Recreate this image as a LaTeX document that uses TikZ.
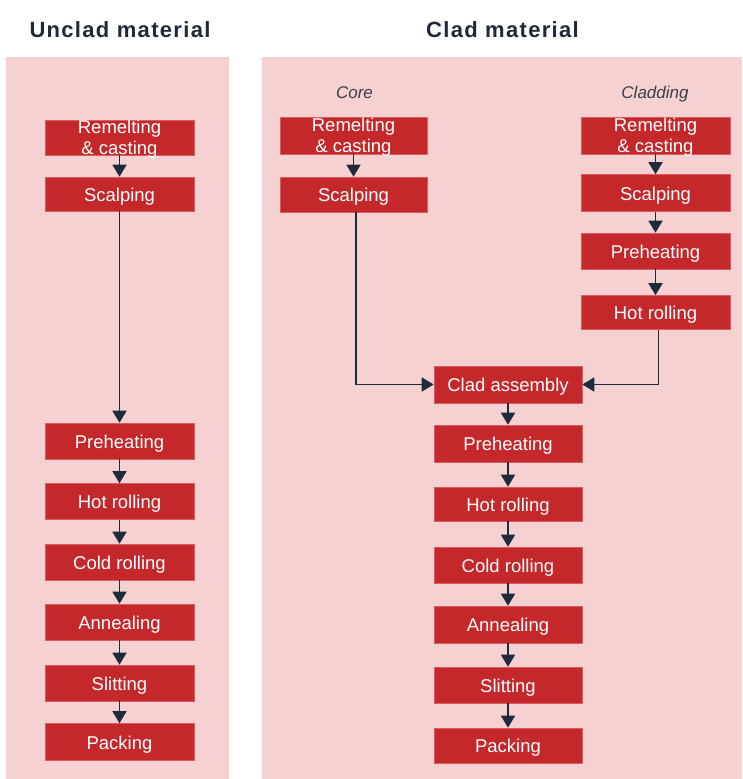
\documentclass[tikz,border=0pt]{standalone}
\usepackage{fontspec}
\setmainfont{Liberation Sans}
\usetikzlibrary{arrows.meta}
\definecolor{panel}{HTML}{F5D1D2}
\definecolor{boxred}{HTML}{C4282B}
\definecolor{boxedge}{HTML}{DA5C5E}
\definecolor{arrowc}{HTML}{1E2B3A}
\definecolor{titlec}{HTML}{1F2A36}
\definecolor{subc}{HTML}{3A3F47}
\begin{document}
\begin{tikzpicture}[x=1pt,y=-1pt,
  panelbox/.style={fill=panel, draw=none},
  procbox/.style={rectangle, fill=boxred, draw=boxedge, line width=0.6pt, text=white,
    font=\fontsize{18.5}{21}\selectfont, minimum height=36pt, inner sep=0pt,
    text height=14pt, text depth=0pt},
  twoline/.style={text height=0pt, text depth=9pt},
  wl/.style={minimum width=149pt},
  wc/.style={minimum width=147pt},
  wm/.style={minimum width=148pt},
  flow/.style={draw=arrowc, line width=1.6pt, -{Triangle[width=14pt,length=12pt]}},
  title/.style={font=\fontsize{22}{24}\selectfont\bfseries\addfontfeatures{LetterSpace=6}, text=titlec, anchor=base, inner sep=0pt},
  sub/.style={font=\fontsize{17}{20}\selectfont\itshape, text=subc, anchor=base, inner sep=0pt}]
\useasboundingbox (0,0) rectangle (742,779);
\fill[white] (0,0) rectangle (742,779);
% panels
\fill[panelbox] (6,57) rectangle (229,779);
\fill[panelbox] (262,57) rectangle (742,779);
% titles
\node[title] (t1) at (120,37) {Unclad material};
\node[title] (t2) at (502.5,37) {Clad material};
\node[sub] (core) at (354.5,98) {Core};
\node[sub] (clad) at (655,98) {Cladding};
% left column
\node[procbox,wl,twoline,minimum height=35pt] (l1) at (119.5,137.5) {\raisebox{0pt}[0pt][0pt]{\begin{tabular}[t]{@{}c@{}}Remelting\\\& casting\end{tabular}}};
\node[procbox,wl,minimum height=34pt] (l2) at (119.5,194) {Scalping};
\node[procbox,wl] (l3) at (119.5,441) {Preheating};
\node[procbox,wl] (l4) at (119.5,501.5) {Hot rolling};
\node[procbox,wl] (l5) at (119.5,562) {Cold rolling};
\node[procbox,wl] (l6) at (119.5,622) {Annealing};
\node[procbox,wl] (l7) at (119.5,683) {Slitting};
\node[procbox,wl,minimum height=37pt] (l8) at (119.5,742) {Packing};
% core column
\node[procbox,wc,twoline,minimum height=37pt] (c1) at (353.5,135.5) {\raisebox{0pt}[0pt][0pt]{\begin{tabular}[t]{@{}c@{}}Remelting\\\& casting\end{tabular}}};
\node[procbox,wc,minimum height=35pt] (c2) at (353.5,194.5) {Scalping};
% cladding column
\node[procbox,wl,twoline,minimum height=37pt] (d1) at (655.5,135.5) {\raisebox{0pt}[0pt][0pt]{\begin{tabular}[t]{@{}c@{}}Remelting\\\& casting\end{tabular}}};
\node[procbox,wl,minimum height=37pt] (d2) at (655.5,193) {Scalping};
\node[procbox,wl] (d3) at (655.5,251) {Preheating};
\node[procbox,wl,minimum height=34pt] (d4) at (655.5,312.5) {Hot rolling};
% clad main column
\node[procbox,wm,minimum height=37pt] (m1) at (508,384.5) {Clad assembly};
\node[procbox,wm,minimum height=37pt] (m2) at (508,443.5) {Preheating};
\node[procbox,wm,minimum height=34pt] (m3) at (508,504) {Hot rolling};
\node[procbox,wm] (m4) at (508,565) {Cold rolling};
\node[procbox,wm,minimum height=37pt] (m5) at (508,624.5) {Annealing};
\node[procbox,wm] (m6) at (508,685) {Slitting};
\node[procbox,wm,minimum height=35pt] (m7) at (508,745.5) {Packing};
% arrows left
\draw[flow] (l1) -- (l2);
\draw[flow] (l2) -- (l3);
\draw[flow] (l3) -- (l4);
\draw[flow] (l4) -- (l5);
\draw[flow] (l5) -- (l6);
\draw[flow] (l6) -- (l7);
\draw[flow] (l7) -- (l8);
% core
\draw[flow] (c1) -- (c2);
\coordinate (cb) at ([xshift=2.5pt]c2.south);
\draw[flow] (cb) |- (m1.west);
% cladding
\draw[flow] (d1) -- (d2);
\draw[flow] (d2) -- (d3);
\draw[flow] (d3) -- (d4);
\coordinate (db) at ([xshift=3pt]d4.south);
\draw[flow] (db) |- (m1.east);
% main
\draw[flow] (m1) -- (m2);
\draw[flow] (m2) -- (m3);
\draw[flow] (m3) -- (m4);
\draw[flow] (m4) -- (m5);
\draw[flow] (m5) -- (m6);
\draw[flow] (m6) -- (m7);
\end{tikzpicture}
\end{document}
